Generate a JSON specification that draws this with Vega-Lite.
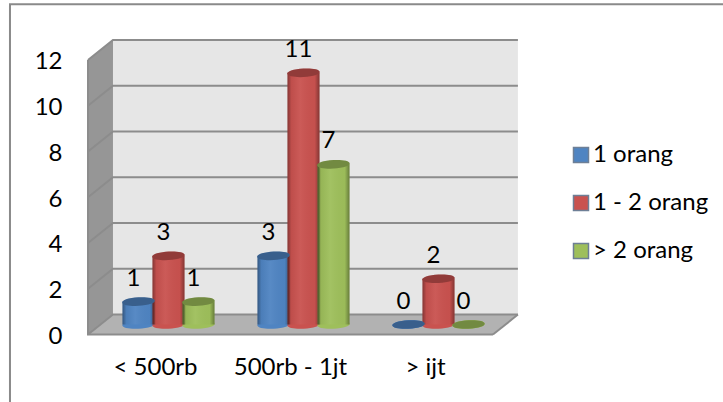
{
"$schema":"https://vega.github.io/schema/vega-lite/v6.json",
"width":431,"height":294.5,
"autosize":{"type":"none"},
"padding":{"left":88,"top":40,"right":204,"bottom":67.5},
"background":"white",
"config":{"view":{"stroke":null},"font":"Lato"},
"datasets":{
"bars":[
{"cat":"< 500rb","series":"1 orang","value":1},
{"cat":"< 500rb","series":"1 - 2 orang","value":3},
{"cat":"< 500rb","series":"> 2 orang","value":1},
{"cat":"500rb - 1jt","series":"1 orang","value":3},
{"cat":"500rb - 1jt","series":"1 - 2 orang","value":11},
{"cat":"500rb - 1jt","series":"> 2 orang","value":7},
{"cat":"> ijt","series":"1 orang","value":0},
{"cat":"> ijt","series":"1 - 2 orang","value":2},
{"cat":"> ijt","series":"> 2 orang","value":0}
],
"back":[{"u":0.185,"lo":0.87,"hi":12.87},{"u":3.185,"lo":0.87,"hi":12.87}],
"side":[{"u":0,"lo":0,"hi":12},{"u":0.185,"lo":0.87,"hi":12.87}],
"floor":[{"u":0,"lo":0,"hi":0},{"u":0.185,"lo":0,"hi":0.87},{"u":3,"lo":0,"hi":0.87},{"u":3.185,"lo":0.87,"hi":0.87}],
"grid":[
{"t":0,"u":0,"v":0},{"t":0,"u":0.185,"v":0.87},{"t":0,"u":3.185,"v":0.87},
{"t":2,"u":0,"v":2},{"t":2,"u":0.185,"v":2.87},{"t":2,"u":3.185,"v":2.87},
{"t":4,"u":0,"v":4},{"t":4,"u":0.185,"v":4.87},{"t":4,"u":3.185,"v":4.87},
{"t":6,"u":0,"v":6},{"t":6,"u":0.185,"v":6.87},{"t":6,"u":3.185,"v":6.87},
{"t":8,"u":0,"v":8},{"t":8,"u":0.185,"v":8.87},{"t":8,"u":3.185,"v":8.87},
{"t":10,"u":0,"v":10},{"t":10,"u":0.185,"v":10.87},{"t":10,"u":3.185,"v":10.87},
{"t":12,"u":0,"v":12},{"t":12,"u":0.185,"v":12.87},{"t":12,"u":3.185,"v":12.87}
],
"edge":[{"n":1,"u":3,"v":0},{"n":2,"u":0,"v":0},{"n":3,"u":0,"v":12}],
"edge2":[{"n":1,"u":3,"v":0},{"n":2,"u":3.185,"v":0.87}],
"frame":[{"n":1,"u":-0.578,"v":-3.1},{"n":2,"u":-0.578,"v":14.43},{"n":3,"u":4.75,"v":14.43}]
},
"resolve":{"scale":{"x":"independent"}},
"layer":[
{"layer":[
{"data":{"name":"back"},"mark":{"type":"area","color":"#e6e6e6","clip":false},
 "encoding":{"x":{"field":"u","type":"quantitative","scale":{"domain":[0,3.193],"range":[0,431],"nice":false,"zero":false},"axis":null},
 "y":{"field":"lo","type":"quantitative","scale":{"domain":[0,12.87],"nice":false,"zero":false},"axis":{"values":[0,2,4,6,8,10,12],"grid":false,"domain":false,"ticks":false,"title":null,"labelFontSize":24,"labelColor":"#000000","labelPadding":26,"labelOffset":2,"labelFont":"Lato","labelBaseline":"middle"}},
 "y2":{"field":"hi"}}},
{"data":{"name":"side"},"mark":{"type":"area","color":"#969696"},
 "encoding":{"x":{"field":"u","type":"quantitative"},"y":{"field":"lo","type":"quantitative"},"y2":{"field":"hi"}}},
{"data":{"name":"floor"},"mark":{"type":"area","color":"#b2b2b2"},
 "encoding":{"x":{"field":"u","type":"quantitative"},"y":{"field":"lo","type":"quantitative"},"y2":{"field":"hi"}}},
{"data":{"name":"grid"},"mark":{"type":"line","color":"#8c8c8c","strokeWidth":2,"interpolate":"linear"},
 "encoding":{"x":{"field":"u","type":"quantitative"},"y":{"field":"v","type":"quantitative"},"detail":{"field":"t"},"order":{"field":"u"}}},
{"data":{"name":"edge"},"mark":{"type":"line","color":"#8c8c8c","strokeWidth":2},
 "encoding":{"x":{"field":"u","type":"quantitative"},"y":{"field":"v","type":"quantitative"},"order":{"field":"n"}}},
{"data":{"name":"edge2"},"mark":{"type":"line","color":"#8c8c8c","strokeWidth":2},
 "encoding":{"x":{"field":"u","type":"quantitative"},"y":{"field":"v","type":"quantitative"},"order":{"field":"n"}}},
{"data":{"name":"frame"},"mark":{"type":"line","color":"#8a8a8a","strokeWidth":2},
 "encoding":{"x":{"field":"u","type":"quantitative"},"y":{"field":"v","type":"quantitative"},"order":{"field":"n"}}}
]},
{"data":{"name":"bars"},
 "encoding":{
  "x":{"field":"cat","type":"nominal","sort":["< 500rb","500rb - 1jt","> ijt"],
   "scale":{"type":"band","range":[13,418],"paddingInner":0,"paddingOuter":0},
   "axis":{"orient":"bottom","title":null,"labelAngle":0,"domain":false,"ticks":false,"labelFontSize":24,"labelColor":"#000000","labelPadding":33,"labelOffset":-13,"labelFont":"Lato","labelBaseline":"middle"}},
  "xOffset":{"field":"series","type":"nominal","sort":["1 orang","1 - 2 orang","> 2 orang"],"scale":{"type":"band","paddingInner":0,"paddingOuter":0.75}}
 },
 "layer":[
 {"mark":{"type":"point","filled":true,"opacity":1,"strokeWidth":0,"yOffset":-10,"shape":"M-1,.05 C-1,-.3 1,-.4 1,-.05 C1,.3 -1,.4 -1,.05Z","size":1050},
  "encoding":{"y":{"datum":0,"type":"quantitative"},
  "fill":{"field":"series","type":"nominal","sort":["1 orang","1 - 2 orang","> 2 orang"],"scale":{"domain":["1 orang","1 - 2 orang","> 2 orang"],"range":["#4f84c2","#c9524f","#9ebf5b"]},
   "legend":{"title":null,"orient":"none","legendX":481,"legendY":103,"symbolType":"square","symbolSize":225,"symbolStrokeWidth":1.5,"symbolStrokeColor":"#6e7f96","labelFontSize":24,"labelColor":"#000000","labelFont":"Lato","rowPadding":24,"labelOffset":0,"symbolOpacity":1}}}},
 {"mark":{"type":"bar","width":32,"yOffset":-10,"y2Offset":-10},
  "encoding":{"y":{"field":"value","type":"quantitative","stack":null},"y2":{"datum":0},
  "fill":{"field":"series","type":"nominal","sort":["1 orang","1 - 2 orang","> 2 orang"]}}},
 {"mark":{"type":"bar","width":32,"yOffset":-10,"y2Offset":-10,"fill":{"gradient":"linear","x1":0,"x2":1,"y1":0,"y2":0,"stops":[{"offset":0,"color":"rgba(0,0,0,0.35)"},{"offset":0.12,"color":"rgba(0,0,0,0.05)"},{"offset":0.4,"color":"rgba(255,255,255,0.05)"},{"offset":0.85,"color":"rgba(0,0,0,0.02)"},{"offset":1,"color":"rgba(0,0,0,0.35)"}]}},
  "encoding":{"y":{"field":"value","type":"quantitative","stack":null},"y2":{"datum":0}}},
 {"mark":{"type":"point","filled":true,"opacity":1,"strokeWidth":0,"yOffset":-10,"shape":"M-1,.05 C-1,-.3 1,-.4 1,-.05 C1,.3 -1,.4 -1,.05Z","size":1050},
  "encoding":{"y":{"field":"value","type":"quantitative"},"fill":{"field":"series","type":"nominal","sort":["1 orang","1 - 2 orang","> 2 orang"]}}},
 {"mark":{"type":"point","filled":true,"opacity":0.28,"strokeWidth":0,"color":"black","yOffset":-10,"shape":"M-1,.05 C-1,-.3 1,-.4 1,-.05 C1,.3 -1,.4 -1,.05Z","size":1050},
  "encoding":{"y":{"field":"value","type":"quantitative"}}},
 {"mark":{"type":"text","fontSize":24,"color":"#000000","font":"Lato","dx":-5,"yOffset":-33,"baseline":"middle"},
  "encoding":{"y":{"field":"value","type":"quantitative"},"text":{"field":"value","type":"quantitative"}}}
 ]
}
]
}
